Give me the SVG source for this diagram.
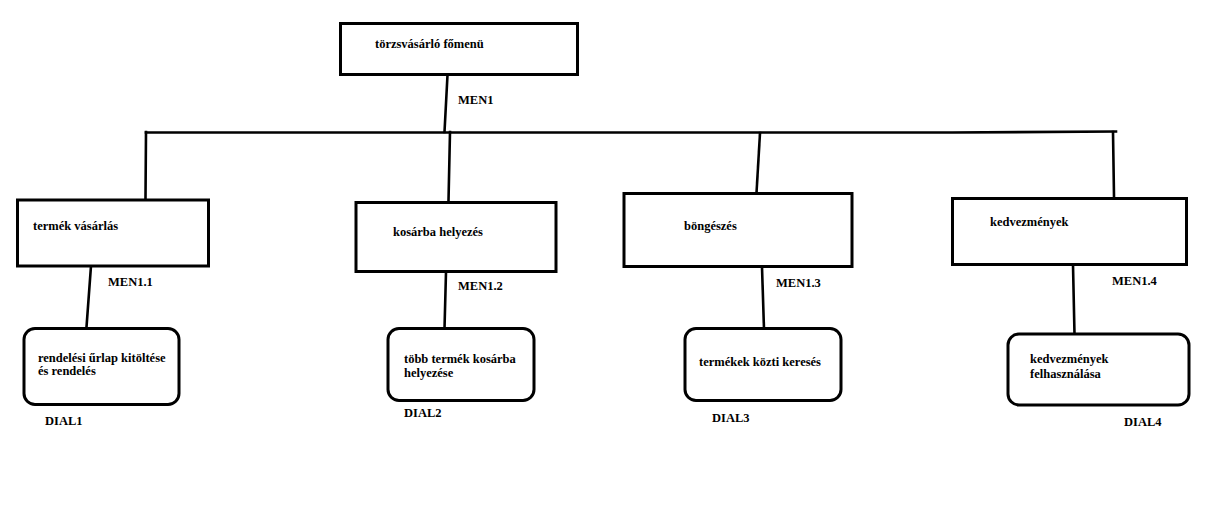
<svg xmlns="http://www.w3.org/2000/svg" width="1230" height="512" viewBox="0 0 1230 512">
<style>
.box{fill:#fff;stroke:#000;stroke-width:3}
.ln{fill:none;stroke:#000;stroke-width:2.6;stroke-linecap:square}
text{font-family:"Liberation Serif","Times New Roman",serif;font-weight:bold;font-size:12.5px;fill:#000}
</style>
<rect width="1230" height="512" fill="#fff"/>
<g id="connectors">
<line class="ln" x1="447.5" y1="75" x2="444.5" y2="132"/>
<polyline class="ln" points="146,132.5 897,132.5 952,132.5 1116,131.5"/>
<line class="ln" x1="146" y1="132" x2="145.5" y2="199"/>
<line class="ln" x1="450" y1="132" x2="448.5" y2="201"/>
<line class="ln" x1="760" y1="133" x2="756.5" y2="193"/>
<line class="ln" x1="1113" y1="132" x2="1114" y2="196"/>
<line class="ln" x1="91" y1="266" x2="86.5" y2="327"/>
<line class="ln" x1="446" y1="272" x2="444.5" y2="329"/>
<line class="ln" x1="762" y1="267" x2="764" y2="329"/>
<line class="ln" x1="1073" y1="265" x2="1074.5" y2="334"/>
</g>
<g id="root">
<rect class="box" x="340.5" y="23.5" width="237" height="51"/>
<text x="375" y="48">törzsvásárló főmenü</text>
<text x="458" y="104">MEN1</text>
</g>
<g id="men1-1">
<rect class="box" x="17.5" y="200" width="191" height="66"/>
<text x="33" y="230">termék vásárlás</text>
<text x="108" y="286">MEN1.1</text>
</g>
<g id="men1-2">
<rect class="box" x="356" y="202.5" width="200" height="69"/>
<text x="393" y="236">kosárba helyezés</text>
<text x="458" y="290">MEN1.2</text>
</g>
<g id="men1-3">
<rect class="box" x="624" y="193.5" width="228" height="73"/>
<text x="684" y="230">böngészés</text>
<text x="776" y="287">MEN1.3</text>
</g>
<g id="men1-4">
<rect class="box" x="952.5" y="198.5" width="234" height="66"/>
<text x="990" y="226">kedvezmények</text>
<text x="1112" y="285">MEN1.4</text>
</g>
<g id="dial1">
<rect class="box" x="24" y="328.5" width="155" height="76" rx="11"/>
<text x="38" y="362">rendelési űrlap kitöltése</text>
<text x="38" y="375">és rendelés</text>
<text x="45" y="425">DIAL1</text>
</g>
<g id="dial2">
<rect class="box" x="388" y="328.5" width="146" height="72" rx="11"/>
<text x="404" y="363">több termék kosárba</text>
<text x="404" y="377">helyezése</text>
<text x="404" y="417">DIAL2</text>
</g>
<g id="dial3">
<rect class="box" x="685" y="328.5" width="156" height="72" rx="11"/>
<text x="699" y="366">termékek közti keresés</text>
<text x="712" y="422">DIAL3</text>
</g>
<g id="dial4">
<rect class="box" x="1008" y="334" width="181" height="71" rx="11"/>
<text x="1030" y="363">kedvezmények</text>
<text x="1030" y="378">felhasználása</text>
<text x="1124" y="426">DIAL4</text>
</g>
</svg>
